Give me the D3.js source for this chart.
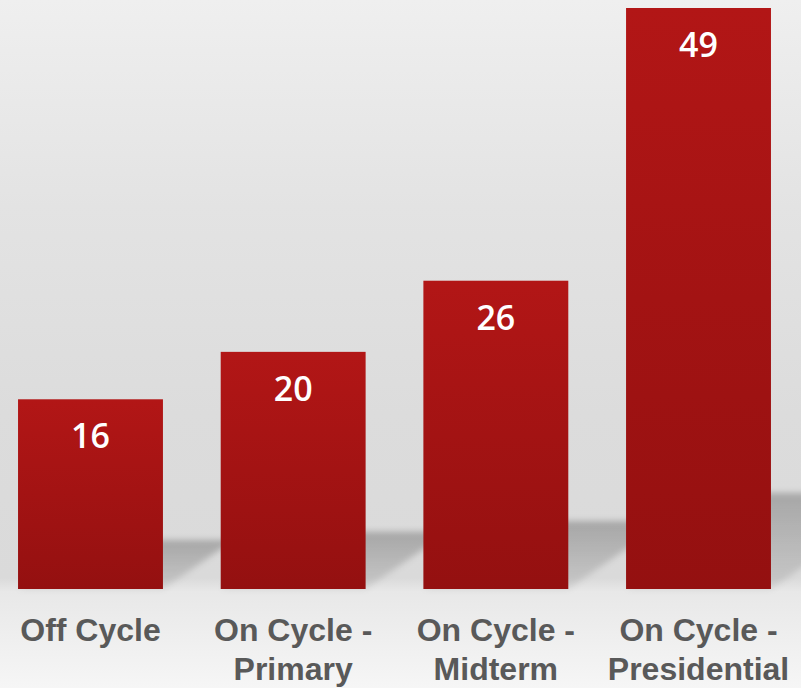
<!DOCTYPE html>
<html>
<head>
<meta charset="utf-8">
<script src="https://cdn.jsdelivr.net/npm/d3@7"></script>
<style>
  html, body { margin: 0; padding: 0; background: #eee; }
  svg { display: block; }
</style>
</head>
<body>
<div id="chart"></div>
<script>
// Election timing categories and their values
const categories = ["Off Cycle", "On Cycle - Primary", "On Cycle - Midterm", "On Cycle - Presidential"];
const labelLines = [["Off Cycle"], ["On Cycle -", "Primary"], ["On Cycle -", "Midterm"], ["On Cycle -", "Presidential"]];
const values = [16, 20, 26, 49];

const W = 801, H = 688;
const baseY = 589;

const svg = d3.select("#chart").append("svg")
  .attr("width", W).attr("height", H);

const defs = svg.append("defs");

// Backdrop gradient
const bg = defs.append("linearGradient").attr("id", "bg")
  .attr("x1", 0).attr("y1", 0).attr("x2", 0).attr("y2", 1);
[[0, "#efefef"], [0.3, "#e3e3e3"], [0.6, "#dcdcdc"], [0.84, "#dadada"],
 [0.86, "#e8e8e8"], [1, "#f6f6f6"]].forEach(([o, c]) =>
  bg.append("stop").attr("offset", o).attr("stop-color", c));

// Bar fill gradient
const barGrad = defs.append("linearGradient").attr("id", "barGrad")
  .attr("x1", 0).attr("y1", 0).attr("x2", 0).attr("y2", 1);
barGrad.append("stop").attr("offset", 0).attr("stop-color", "#b21616");
barGrad.append("stop").attr("offset", 1).attr("stop-color", "#941010");

// Cast shadow fill + blur
const shGrad = defs.append("linearGradient").attr("id", "shGrad")
  .attr("x1", 0).attr("y1", 0).attr("x2", 0).attr("y2", 1);
shGrad.append("stop").attr("offset", 0).attr("stop-color", "#000").attr("stop-opacity", 0.24);
shGrad.append("stop").attr("offset", 1).attr("stop-color", "#000").attr("stop-opacity", 0.08);
defs.append("filter").attr("id", "soft")
  .attr("x", "-20%").attr("y", "-20%").attr("width", "140%").attr("height", "140%")
  .append("feGaussianBlur").attr("stdDeviation", 3);

svg.append("rect").attr("width", W).attr("height", H).attr("fill", "url(#bg)");

const x = d3.scaleBand()
  .domain(categories)
  .range([7.9, 781.1])
  .paddingInner(0.285)
  .paddingOuter(0.05);

const y = d3.scaleLinear().domain([0, 49]).range([baseY, 8]);

// Shadow height shrinks with distance (perspective)
const shadowH = h => 0.3545 * h / (1 + 0.001972 * h);

// Shadows cast up and to the right of each bar
svg.append("g").attr("filter", "url(#soft)")
  .selectAll("path").data(values).join("path")
  .attr("d", (v, i) => {
    const x0 = x(categories[i]), x1 = x0 + x.bandwidth();
    const h = baseY - y(v);
    const sh = shadowH(h), dx = sh * 1.45;
    return `M${x0},${baseY} L${x1},${baseY} L${x1 + dx},${baseY - sh} L${x0 + dx},${baseY - sh} Z`;
  })
  .attr("fill", "url(#shGrad)");

// Bars
svg.append("g").selectAll("rect").data(values).join("rect")
  .attr("x", (v, i) => x(categories[i]))
  .attr("y", v => y(v))
  .attr("width", x.bandwidth())
  .attr("height", v => baseY - y(v))
  .attr("fill", "url(#barGrad)");

// Value labels inside bar tops
svg.append("g").selectAll("text").data(values).join("text")
  .attr("x", (v, i) => x(categories[i]) + x.bandwidth() / 2)
  .attr("y", v => y(v) + 49)
  .attr("text-anchor", "middle")
  .attr("font-family", "'Open Sans', sans-serif")
  .attr("font-weight", 600)
  .attr("font-size", 34)
  .attr("fill", "#ffffff")
  .text(v => v);

// Category labels
const xl = svg.append("g").selectAll("text").data(categories).join("text")
  .attr("x", d => x(d) + x.bandwidth() / 2)
  .attr("y", 641)
  .attr("text-anchor", "middle")
  .attr("font-family", "'Liberation Sans', Arial, sans-serif")
  .attr("font-weight", "bold")
  .attr("font-size", 32)
  .attr("fill", "#595959");
xl.each(function (d, i) {
  d3.select(this).selectAll("tspan").data(labelLines[i]).join("tspan")
    .attr("x", x(d) + x.bandwidth() / 2)
    .attr("dy", (t, j) => j === 0 ? 0 : 39)
    .text(t => t);
});
</script>
</body>
</html>
